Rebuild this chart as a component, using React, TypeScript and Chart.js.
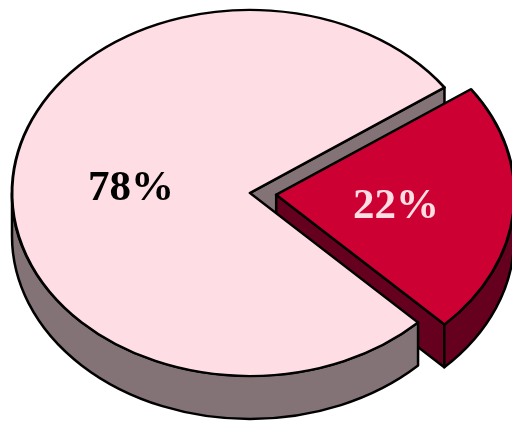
import React, { useEffect, useRef } from "react";
import { Chart, registerables } from "chart.js";

Chart.register(...registerables);

const categories = ["Minor share", "Major share"];
const values = [22.3, 77.7];
const topColors = ["#CC0033", "#FFDDE4"];
const wallColors = ["#66001F", "#837376"];
const labelColors = ["#FFDDE4", "#000000"];

const W = 512;
const H = 422;
const CX = 250;
const CY = 193;
const RX = 238;
const RY = 183;
const DEPTH = 43;
const OUTLINE = 2.5;
const labelPos = [
  { x: 396, y: 218 },
  { x: 131, y: 200 },
];

function wallArc(ctx: any, cx: number, cy: number, a0: number, a1: number) {
  ctx.beginPath();
  ctx.ellipse(cx, cy, RX, RY, 0, a0, a1, false);
  ctx.ellipse(cx, cy + DEPTH, RX, RY, 0, a1, a0, true);
  ctx.closePath();
  ctx.fill();
  ctx.stroke();
}

function wallPlane(ctx: any, cx: number, cy: number, a: number) {
  const px = cx + RX * Math.cos(a);
  const py = cy + RY * Math.sin(a);
  ctx.beginPath();
  ctx.moveTo(cx, cy);
  ctx.lineTo(px, py);
  ctx.lineTo(px, py + DEPTH);
  ctx.lineTo(cx, cy + DEPTH);
  ctx.closePath();
  ctx.fill();
  ctx.stroke();
}

const pie3d = {
  id: "pie3d",
  beforeDatasetsDraw(chart: any) {
    const ctx = chart.ctx;
    const arcs = chart.getDatasetMeta(0).data;
    const R = arcs[1].outerRadius;
    const sx = RX / R;
    const sy = RY / R;
    const red = arcs[0];
    const pink = arcs[1];
    const mid = (red.startAngle + red.endAngle) / 2;
    const t = (red.options.offset || 0) / 4;
    const rcx = CX + Math.cos(mid) * t * sx;
    const rcy = CY + Math.sin(mid) * t * sy;

    ctx.save();
    ctx.strokeStyle = "#000";
    ctx.lineWidth = OUTLINE;
    ctx.lineJoin = "round";
    ctx.fillStyle = wallColors[1];
    wallPlane(ctx, CX, CY, pink.endAngle);
    ctx.fillStyle = wallColors[0];
    wallPlane(ctx, rcx, rcy, red.endAngle);
    wallArc(ctx, rcx, rcy, 0, red.endAngle);
    ctx.fillStyle = wallColors[1];
    wallArc(ctx, CX, CY, pink.startAngle, Math.PI);
    ctx.restore();

    ctx.save();
    ctx.translate(CX, CY);
    ctx.scale(sx, sy);
    ctx.translate(-pink.x, -pink.y);
  },
  afterDatasetsDraw(chart: any) {
    const ctx = chart.ctx;
    ctx.restore();
    ctx.save();
    ctx.font = "bold 43px 'Liberation Serif'";
    ctx.textAlign = "center";
    ctx.textBaseline = "alphabetic";
    values.forEach((v, i) => {
      ctx.fillStyle = labelColors[i];
      ctx.fillText(Math.round(v) + "%", labelPos[i].x, labelPos[i].y);
    });
    ctx.restore();
  },
};

export default function App() {
  const ref = useRef<HTMLCanvasElement>(null);
  useEffect(() => {
    const chart = new Chart(ref.current as HTMLCanvasElement, {
      type: "pie",
      data: {
        labels: categories,
        datasets: [
          {
            data: values,
            backgroundColor: topColors,
            borderColor: "#000",
            borderWidth: 2.1,
            borderJoinStyle: "round",
            offset: [76, 0],
            hoverOffset: 0,
            clip: false,
          } as any,
        ],
      },
      options: {
        responsive: false,
        animation: false,
        rotation: 54.8,
        layout: { padding: 0 },
        events: [],
        plugins: { legend: { display: false }, tooltip: { enabled: false } },
      },
      plugins: [pie3d],
    } as any);
    return () => chart.destroy();
  }, []);
  return (
    <div style={{ position: "fixed", left: 0, top: 0, width: W, height: H, background: "#fff" }}>
      <canvas ref={ref} width={W} height={H} style={{ display: "block" }} />
    </div>
  );
}
